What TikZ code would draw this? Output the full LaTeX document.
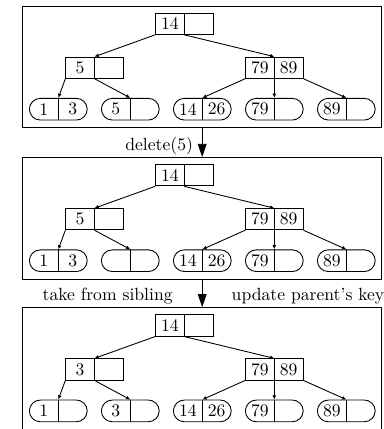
\documentclass[tikz,border=0pt]{standalone}
\usetikzlibrary{shapes.misc,arrows.meta,calc}
\tikzset{
  x=0.567pt, y=-0.567pt,
  every path/.style={line width=0.5pt},
  frame/.style={draw, rectangle, inner sep=0pt, minimum width=203.55pt, minimum height=68.89pt},
  inode/.style={draw, rectangle, inner sep=0pt, minimum width=32.55pt, minimum height=12.02pt},
  lnode/.style={draw, rounded rectangle, inner sep=0pt, minimum width=32.77pt, minimum height=12.3pt},
  key/.style={inner sep=0pt},
  ptr/.style={-{Latex[length=2.4pt,width=2.2pt]}},
  bigarrow/.style={-{Triangle[length=7.5pt,width=5pt]}},
  lab/.style={inner sep=0pt}
}
\newcommand\bptree[5]{%
  \node[frame] (#1f) at (202.2,#2+60.75) {};
  \node[inode] (#1r) at (184.3,#2+17.8) {};
  \node[inode] (#1a) at (94.5,#2+61.7) {};
  \node[inode] (#1b) at (274.3,#2+61.7) {};
  \foreach \i/\x in {1/58.3,2/130.3,3/202.3,4/274.3,5/346.3}{
    \node[lnode] (#1l\i) at (\x,#2+103.2) {};
    \draw (#1l\i.north) -- (#1l\i.south);
  }
  \draw (#1r.north) -- (#1r.south);
  \draw (#1a.north) -- (#1a.south);
  \draw (#1b.north) -- (#1b.south);
  \node[key] (#1rk) at ($(#1r.center)+(-14.35,0)$) {14};
  \node[key] (#1ak) at ($(#1a.center)+(-14.35,0)$) {#3};
  \node[key] (#1bk1) at ($(#1b.center)+(-14.35,0)$) {79};
  \node[key] (#1bk2) at ($(#1b.center)+(14.35,0)$) {89};
  \node[key] (#1lk1) at ($(#1l1.center)+(-14.4,0)$) {1};
  \node[key] (#1lk2) at ($(#1l1.center)+(14.4,0)$) {#4};
  \node[key] (#1lk3) at ($(#1l2.center)+(-14.4,0)$) {#5};
  \node[key] (#1lk5) at ($(#1l3.center)+(-14.4,0)$) {14};
  \node[key] (#1lk6) at ($(#1l3.center)+(14.4,0)$) {26};
  \node[key] (#1lk7) at ($(#1l4.center)+(-14.4,0)$) {79};
  \node[key] (#1lk9) at ($(#1l5.center)+(-14.4,0)$) {89};
  \draw[ptr] (#1r.south west) -- (#1a.north);
  \draw[ptr] (#1r.south) -- (#1b.north);
  \draw[ptr] (#1a.south west) -- (#1l1.north);
  \draw[ptr] (#1a.south) -- (#1l2.north);
  \draw[ptr] (#1b.south west) -- (#1l3.north);
  \draw[ptr] (#1b.south) -- (#1l4.north);
  \draw[ptr] (#1b.south east) -- (#1l5.north);
}
\begin{document}
\begin{tikzpicture}
  \useasboundingbox (0,0) rectangle (383,429);
  \bptree{ta}{6}{5}{3}{5}
  \bptree{tb}{157.5}{5}{3}{}
  \bptree{tc}{307.7}{3}{}{3}
  \draw[bigarrow] (taf.south) -- node[lab, anchor=east, xshift=-5pt, yshift=-2.2pt] (l1) {delete(5)} (tbf.north);
  \draw[bigarrow] (tbf.south) -- node[lab, anchor=east, xshift=-16.5pt, yshift=-1.8pt] (l2) {take from sibling}
     node[lab, anchor=west, xshift=16.5pt, yshift=-1.8pt] (l3) {update parent's key} (tcf.north);
\end{tikzpicture}
\end{document}
